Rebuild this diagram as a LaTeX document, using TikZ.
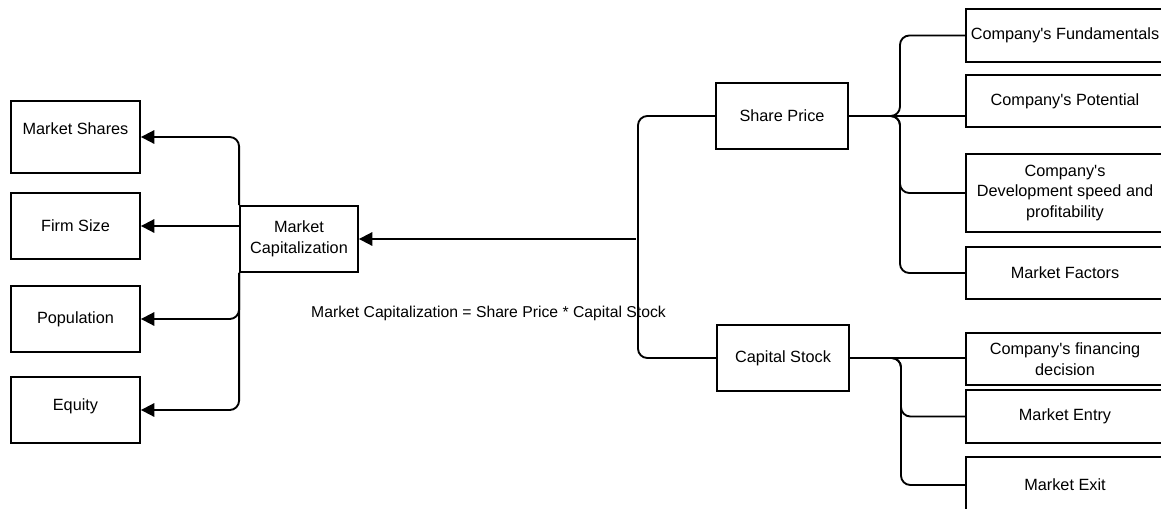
\documentclass[tikz,border=0pt]{standalone}
\usepackage{fontspec}
\setmainfont{Liberation Sans}
\usetikzlibrary{arrows.meta,calc}
\begin{document}
\begin{tikzpicture}[x=0.75pt,y=-0.75pt,
  box/.style={draw=black, line width=1.4pt, rectangle, inner sep=0pt, align=center, font=\fontsize{12.2}{15.5}\selectfont},
  conn/.style={line width=1.4pt, rounded corners=7pt},
  arr/.style={conn, -{Triangle[length=10pt,width=10pt]}},
  txt/.style={inner sep=0pt, align=center, font=\fontsize{12.2}{15.5}\selectfont}]
\useasboundingbox (0,0) rectangle (1161,508);
\fill[white] (0,0) rectangle (1161,508);
\clip (0,0) rectangle (1161,508);

% left boxes
\node[box, minimum width=96.75pt, minimum height=54pt] (ms) at (75.5,137) {};
\node[txt] (msT) at (75.5,129) {Market Shares};
\node[box, minimum width=96.75pt, minimum height=49.5pt] (fs) at (75.5,226) {Firm Size};
\node[box, minimum width=96.75pt, minimum height=49.5pt] (pop) at (75.5,319) {Population};
\node[box, minimum width=96.75pt, minimum height=49.5pt] (eq) at (75.5,410) {};
\node[txt] (eqT) at (75.5,406) {Equity};

% centre
\node[box, minimum width=88.5pt, minimum height=49.5pt] (mc) at (299,239) {Market\\Capitalization};

% middle
\node[box, minimum width=99pt, minimum height=49.5pt] (sp) at (782,116) {Share Price};
\node[box, minimum width=99pt, minimum height=49.5pt] (cs) at (783,358) {Capital Stock};

% right boxes
\node[box, minimum width=148.5pt, minimum height=39.75pt] (cf) at (1065,35.5) {Company\textquotesingle s Fundamentals};
\node[box, minimum width=148.5pt, minimum height=39pt] (cp) at (1065,101) {Company\textquotesingle s Potential};
\node[box, minimum width=148.5pt, minimum height=58.5pt] (cd) at (1065,193) {Company\textquotesingle s\\Development speed and\\profitability};
\node[box, minimum width=148.5pt, minimum height=39pt] (mf) at (1065,273) {Market Factors};
\node[box, minimum width=148.5pt, minimum height=39pt] (fin) at (1065,359) {Company\textquotesingle s financing\\decision};
\node[box, minimum width=148.5pt, minimum height=39.75pt] (me) at (1065,416.5) {Market Entry};
\node[box, minimum width=148.5pt, minimum height=42pt] (mx) at (1065,485) {Market Exit};

% formula
\node[txt, font=\fontsize{11.8}{14}\selectfont] (formula) at (488.5,313) {Market Capitalization = Share Price * Capital Stock};

% share price branches
\coordinate (spj) at (900,116);
\draw[conn] (sp.east) -- (spj) |- (cf.west);
\draw[conn] (sp.east) -- (sp.east -| cp.west);
\draw[conn] (sp.east) -- (spj) |- (cd.west);
\draw[conn] (sp.east) -- (spj) |- (mf.west);

% capital stock branches
\coordinate (csj) at (901,358);
\draw[conn] (cs.east) -- (cs.east -| fin.west);
\draw[conn] (cs.east) -- (csj) |- (me.west);
\draw[conn] (cs.east) -- (csj) |- (mx.west);

% main trunk
\coordinate (trunk) at (638,239);
\draw[conn] (sp.west) -| (trunk) |- (cs.west);
\coordinate (mcj) at (636,239);
\draw[arr] (mcj) -- (mc.east);

% left arrows
\draw[arr] (mc.north west) |- (ms.east);
\draw[arr] (mc.west |- fs.east) -- (fs.east);
\draw[arr] (mc.south west) |- (pop.east);
\draw[arr] (mc.south west) |- (eq.east);
\end{tikzpicture}
\end{document}
